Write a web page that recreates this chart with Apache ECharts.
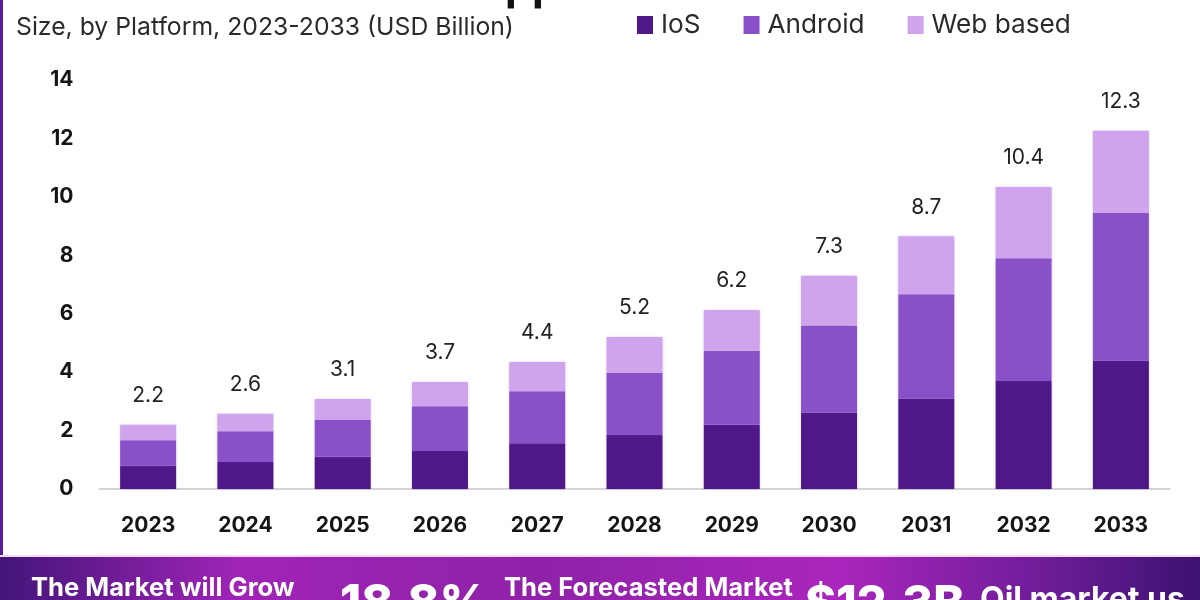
<!DOCTYPE html>
<html><head><meta charset="utf-8">
<style>html,body{margin:0;padding:0;background:#fff}#c{width:1200px;height:600px}</style>
<script src="https://cdn.jsdelivr.net/npm/echarts@6/dist/echarts.min.js"></script>
</head><body><div id="c"></div>
<script>
const years=['2023','2024','2025','2026','2027','2028','2029','2030','2031','2032','2033'];
const ios=[0.8,0.92,1.1,1.3,1.57,1.85,2.2,2.62,3.1,3.7,4.4];
const android=[0.87,1.06,1.26,1.53,1.78,2.12,2.53,2.98,3.57,4.2,5.05];
const web=[0.53,0.6,0.72,0.83,1.0,1.23,1.4,1.7,1.98,2.44,2.81];
const totals=[2.2,2.6,3.1,3.7,4.4,5.2,6.2,7.3,8.7,10.4,12.3];
const yTicks=[0,2,4,6,8,10,12,14];
const subtitle='Size, by Platform, 2023-2033 (USD Billion)';
const FONT='Inter, "Open Sans", sans-serif';
const shadow={shadowBlur:3,shadowColor:'rgba(120,80,200,0.35)'};
const bar=(name,data,color,extra)=>Object.assign({
  name,type:'bar',stack:'t',data,barWidth:56,
  itemStyle:Object.assign({color},shadow),
  emphasis:{disabled:true},animation:false
},extra||{});
const chart=echarts.init(document.getElementById('c'),null,{renderer:'canvas'});
const txt=(t,x,y,size,weight)=>({type:'text',left:x,top:y,silent:true,
  style:{text:t,fill:'#fff',font:`${weight} ${size}px ${FONT}`,shadowBlur:3,shadowColor:'rgba(60,0,90,0.8)'}});
chart.setOption({
  animation:false,backgroundColor:'#fff',
  title:{text:subtitle,left:11,top:10,textStyle:{fontFamily:FONT,fontSize:24.75,fontWeight:400,color:'#2a2a2a'}},
  legend:{left:632,top:7,itemWidth:16,itemHeight:18,itemGap:43,itemStyle:{borderWidth:0},data:['IoS','Android','Web based'],
    icon:'rect',textStyle:{fontFamily:FONT,fontSize:26.2,fontWeight:400,color:'#2a2a2a',padding:[0,0,0,3]},selectedMode:false},
  grid:{left:99.5,right:30.5,top:80,bottom:111},
  xAxis:{type:'category',data:years,axisTick:{show:false},
    axisLine:{lineStyle:{color:'#d4d4d4',width:2}},
    axisLabel:{fontFamily:FONT,fontSize:21,fontWeight:700,color:'#151515',margin:26}},
  yAxis:{type:'value',min:yTicks[0],max:yTicks[yTicks.length-1],interval:2,splitLine:{show:false},
    axisLine:{show:false},axisTick:{show:false},
    axisLabel:{fontFamily:FONT,fontSize:21,fontWeight:700,color:'#151515',margin:26}},
  series:[
    bar('IoS',ios,'#4f1787'),
    bar('Android',android,'#8a50c8'),
    bar('Web based',web,'#d0a4ec',{label:{show:true,position:'top',distance:18.5,
      formatter:p=>totals[p.dataIndex].toFixed(1),
      fontFamily:FONT,fontSize:21,fontWeight:400,color:'#222'}})
  ],
  graphic:[
    {type:'text',silent:true,x:505,y:-34,style:{text:'pp',fill:'#111',font:`700 43px ${FONT}`}},
    {type:'rect',silent:true,shape:{x:0,y:0,width:3,height:556},style:{fill:'#5a1c9c'}},
    {type:'rect',silent:true,shape:{x:0,y:555,width:1200,height:2},style:{fill:'#f6dcf8'}},
    {type:'rect',silent:true,shape:{x:0,y:557,width:1200,height:43},
      style:{fill:new echarts.graphic.LinearGradient(0,0,1,0,[
        {offset:0,color:'#43157a'},{offset:0.2,color:'#a024b6'},{offset:0.45,color:'#8f22a8'},
        {offset:0.7,color:'#aa26bc'},{offset:0.88,color:'#6a1c96'},{offset:1,color:'#3c1270'}])}},
    txt('The Market will Grow',31,575,25.6,700),
    txt('18.8%',340,581,48,800),
    txt('The Forecasted Market',504,575,25.6,700),
    txt('$12.3B',805,581,47,800),
    txt('Oil market us',980,584,32,700)
  ]
});
</script></body></html>
